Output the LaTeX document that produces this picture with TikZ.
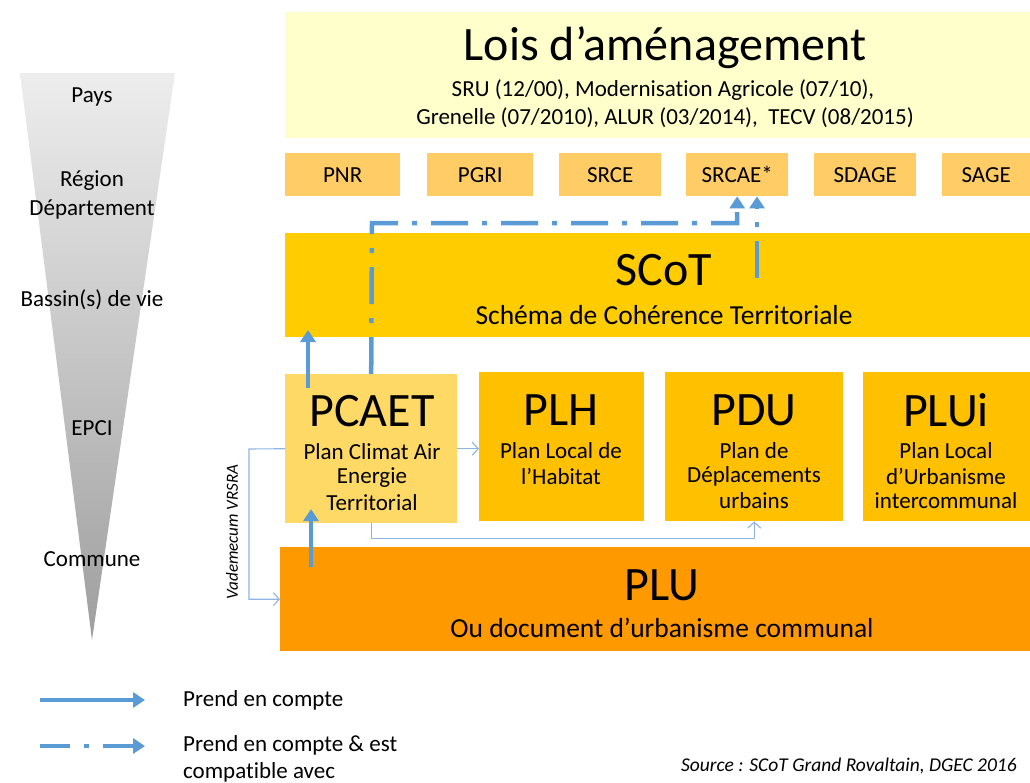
\documentclass[tikz,border=0pt]{standalone}
\usepackage{fontspec}
\setmainfont[Ligatures={NoCommon}]{Carlito}
\usetikzlibrary{arrows.meta,calc}
\definecolor{loisc}{HTML}{FFFFCC}
\definecolor{smallc}{HTML}{FFCC66}
\definecolor{scotc}{HTML}{FFCC00}
\definecolor{pcaetc}{HTML}{FFD966}
\definecolor{planc}{HTML}{FFC000}
\definecolor{pluc}{HTML}{FF9900}
\definecolor{bluec}{HTML}{5B9BD5}
\definecolor{thinc}{HTML}{8DB4E2}
\newcommand\fsz[1]{\fontsize{#1}{#1}\selectfont}
\tikzset{
  box/.style={draw=none, inner sep=0pt, anchor=north west},
  txt/.style={inner sep=0pt, align=center},
  lvl/.style={txt, font=\fsz{23}},
  big/.style={txt, font=\fsz{48}},
  small/.style={txt, font=\fsz{23}},
  sub/.style={txt, font=\fsz{27.5}},
  thinarrow/.style={draw=thinc, line width=1.1pt, -{Straight Barb[length=6pt,width=13pt,line width=1.1pt]}},
  thickarrow/.style={draw=bluec, line width=4.5pt, -{Triangle[length=12pt,width=15pt]}},
  dasharrow/.style={draw=bluec, line width=4.5pt, dash pattern=on 37pt off 14pt on 5pt off 14pt, -{Triangle[length=12pt,width=15pt]}},
}
\begin{document}
\begin{tikzpicture}[x=1pt,y=-1pt]
\useasboundingbox (0,0) rectangle (1030,782);

% pyramid
\shade[top color=black!7, bottom color=black!38] (20,73) -- (175,73) -- (92,640) -- cycle;
\node[lvl] (pays) at (92,97) {Pays};
\node[lvl] (region) at (92,181) {Région};
\node[lvl] (dept) at (92,209) {Département};
\node[lvl] (bassin) at (92,300) {Bassin(s) de vie};
\node[lvl] (epci) at (92,428) {EPCI};
\node[lvl] (commune) at (92,559) {Commune};

% Lois
\node[box, fill=loisc, minimum width=745pt, minimum height=126pt] (lois) at (285,12) {};
\node[big] (loist) at (665,48) {Lois d’aménagement};
\node[small] (loisa) at (663,90) {SRU (12/00), Modernisation Agricole (07/10),};
\node[small] (loisb) at (665,118) {Grenelle (07/2010), ALUR (03/2014), \ TECV (08/2015)};

% small boxes
\node[box, fill=smallc, minimum width=115pt, minimum height=43pt, font=\fsz{23}] (pnr) at (285,153) {PNR};
\node[box, fill=smallc, minimum width=106pt, minimum height=43pt, font=\fsz{23}] (pgri) at (427,153) {PGRI};
\node[box, fill=smallc, minimum width=102pt, minimum height=43pt, font=\fsz{23}] (srce) at (559,153) {SRCE};
\node[box, fill=smallc, minimum width=102pt, minimum height=43pt, font=\fsz{23}] (srcae) at (686,153) {SRCAE*};
\node[box, fill=smallc, minimum width=102pt, minimum height=43pt, font=\fsz{23}] (sdage) at (814,153) {SDAGE};
\node[box, fill=smallc, minimum width=88pt, minimum height=43pt, font=\fsz{23}] (sage) at (942,153) {SAGE};

% SCoT
\node[box, fill=scotc, minimum width=745pt, minimum height=104pt] (scot) at (285,233) {};
\node[big] (scott) at (664,270) {SCoT};
\node[sub] (scots) at (664,315) {Schéma de Cohérence Territoriale};

% middle row
\node[box, fill=pcaetc, minimum width=172pt, minimum height=149pt] (pcaet) at (285,374) {};
\node[big] (pcaett) at (372,411) {PCAET};
\node[small] (pcaeta) at (372,452) {Plan Climat Air};
\node[small] (pcaetb) at (372,478) {Energie};
\node[small] (pcaetc) at (372,503) {Territorial};

\node[box, fill=planc, minimum width=165pt, minimum height=149pt] (plh) at (479,372) {};
\node[big] (plht) at (561,410) {PLH};
\node[small] (plha) at (561,451) {Plan Local de};
\node[small] (plhb) at (561,476) {l’Habitat};

\node[box, fill=planc, minimum width=178pt, minimum height=149pt] (pdu) at (665,372) {};
\node[big] (pdut) at (754,410) {PDU};
\node[small] (pdua) at (754,451) {Plan de};
\node[small] (pdub) at (754,476) {Déplacements};
\node[small] (pduc) at (754,501) {urbains};

\node[box, fill=planc, minimum width=167pt, minimum height=149pt] (plui) at (863,372) {};
\node[big] (pluit) at (946,410) {PLUi};
\node[small] (pluia) at (946,451) {Plan Local};
\node[small] (pluib) at (946,476) {d’Urbanisme};
\node[small] (pluic) at (946,501) {intercommunal};

% PLU
\node[box, fill=pluc, minimum width=750pt, minimum height=104pt] (plu) at (280,547) {};
\node[big] (plut) at (662,585) {PLU};
\node[sub] (plus) at (662,628) {Ou document d’urbanisme communal};

% Vademecum
\node[txt, rotate=90, font=\itshape\fsz{17}] (vade) at (232,532) {Vademecum VRSRA};

% thin connectors
\coordinate (vcorner) at (249,449);
\draw[thinarrow] (pcaet.west) -- (vcorner) |- (plu.west);
\draw[thinarrow] (pcaet.east) -- (pcaet.east -| plh.west);
\coordinate (bcorner) at ($(pcaet.south)+(0,15)$);
\draw[thinarrow] (pcaet.south) -- (bcorner) -| (pdu.south);

% thick arrows
\coordinate (a1s) at (311,567);
\coordinate (a1e) at (311,509);
\draw[thickarrow] (a1s) -- (a1e);
\coordinate (a2s) at (308,388);
\coordinate (a2e) at (308,330);
\draw[thickarrow] (a2s) -- (a2e);

% dash-dot arrows
\coordinate (dcorner) at (372,223);
\draw[dasharrow] (pcaet.north) -- (dcorner) -| (srcae.south);
\coordinate (d2s) at (757,278);
\draw[dasharrow] (d2s) -- (srcae.south -| d2s);

% legend
\coordinate (l1s) at (40,700);
\coordinate (l1e) at (145,700);
\draw[thickarrow] (l1s) -- (l1e);
\node[small, anchor=west] (leg1) at (183,700) {Prend en compte};
\coordinate (l2s) at (40,746);
\coordinate (l2e) at (145,746);
\draw[dasharrow, dash pattern=on 30pt off 14pt on 5pt off 14pt] (l2s) -- (l2e);
\node[small, anchor=west] (leg2a) at (183,745) {Prend en compte \& est};
\node[small, anchor=west] (leg2b) at (183,772) {compatible avec};

\node[txt, anchor=east, font=\itshape\fsz{19.5}] (source) at (1017,766) {Source : SCoT Grand Rovaltain, DGEC 2016};
\end{tikzpicture}
\end{document}
